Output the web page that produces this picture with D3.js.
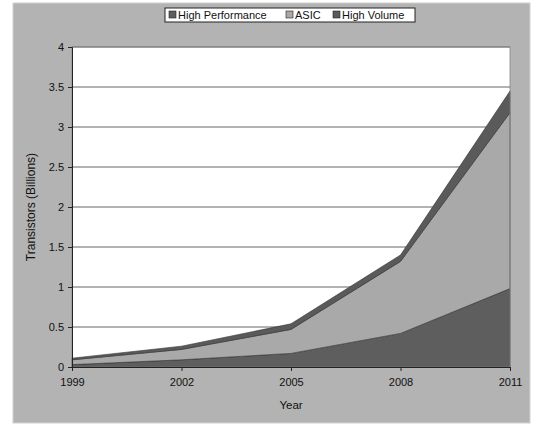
<!DOCTYPE html>
<html>
<head>
<meta charset="utf-8">
<script src="https://cdn.jsdelivr.net/npm/d3@7"></script>
<style>
  body { margin: 0; background: #fff; }
  text { font-family: "Liberation Sans", Arial, sans-serif; fill: #111; }
</style>
</head>
<body>
<svg id="chart" width="541" height="424"></svg>
<script>
const years = ["1999", "2002", "2005", "2008", "2011"];
const seriesNames = ["High Performance", "ASIC", "High Volume"];
const highPerformance = [0.03, 0.09, 0.17, 0.42, 0.98];
const asic = [0.06, 0.13, 0.30, 0.90, 2.20];
const highVolume = [0.02, 0.04, 0.07, 0.08, 0.27];
const yTicks = [0, 0.5, 1, 1.5, 2, 2.5, 3, 3.5, 4];

const colors = ["#5e5e5e", "#a9a9a9", "#5a5a5a"];

const svg = d3.select("#chart");

// outer chart area
svg.append("rect")
  .attr("x", 13).attr("y", 3)
  .attr("width", 517).attr("height", 420)
  .attr("fill", "#b3b3b3")
  .attr("stroke", "#d0d0d0");

const margin = { top: 47, right: 31, bottom: 57, left: 72 },
      width = 541 - margin.left - margin.right,
      height = 424 - margin.top - margin.bottom;

const g = svg.append("g").attr("transform", `translate(${margin.left},${margin.top})`);

const x = d3.scalePoint().domain(years).range([0, width]);
const y = d3.scaleLinear().domain([0, 4]).range([height, 0]);

g.append("rect")
  .attr("width", width).attr("height", height)
  .attr("fill", "#fff");

// gridlines
g.selectAll(".grid")
  .data(yTicks.filter(d => d > 0))
  .enter().append("line")
  .attr("x1", 0).attr("x2", width)
  .attr("y1", d => y(d)).attr("y2", d => y(d))
  .attr("stroke", "#666").attr("stroke-width", 1.2);

const table = years.map((yr, i) => ({
  year: yr,
  "High Performance": highPerformance[i],
  "ASIC": asic[i],
  "High Volume": highVolume[i]
}));

const stacked = d3.stack().keys(seriesNames)(table);

const area = d3.area()
  .x(d => x(d.data.year))
  .y0(d => y(d[0]))
  .y1(d => y(d[1]));

g.selectAll(".layer")
  .data(stacked)
  .enter().append("path")
  .attr("d", area)
  .attr("fill", (d, i) => colors[i])
  .attr("stroke", "#333")
  .attr("stroke-width", 0.6);

// plot border
g.append("rect")
  .attr("width", width).attr("height", height)
  .attr("fill", "none")
  .attr("stroke", "#888").attr("stroke-width", 0.8);

// axes
const yAxis = g.append("g")
  .call(d3.axisLeft(y).tickValues(yTicks).tickSize(4).tickFormat(d3.format("")));
yAxis.select(".domain").attr("stroke", "#222");
yAxis.selectAll(".tick line").attr("stroke", "#222");
yAxis.selectAll("text").attr("font-size", 11).attr("dx", -1);

const xAxis = g.append("g")
  .attr("transform", `translate(0,${height})`)
  .call(d3.axisBottom(x).tickSize(4));
xAxis.select(".domain").attr("stroke", "#222");
xAxis.selectAll(".tick line").attr("stroke", "#222");
xAxis.selectAll("text").attr("font-size", 11).attr("dy", "1.05em");

g.append("text")
  .attr("x", width / 2).attr("y", height + 42)
  .attr("text-anchor", "middle")
  .attr("font-size", 11.5)
  .text("Year");

g.append("text")
  .attr("transform", "rotate(-90)")
  .attr("x", -height / 2).attr("y", -37)
  .attr("text-anchor", "middle")
  .attr("font-size", 12)
  .text("Transistors (Billions)");

// legend
const legend = svg.append("g").attr("transform", "translate(165,8)");
legend.append("rect")
  .attr("width", 250).attr("height", 14)
  .attr("fill", "#fff").attr("stroke", "#222");
const legendX = [4, 121, 168];
seriesNames.forEach((name, i) => {
  const item = legend.append("g").attr("transform", `translate(${legendX[i]},3)`);
  item.append("rect")
    .attr("width", 7).attr("height", 7)
    .attr("fill", colors[i]).attr("stroke", "#222").attr("stroke-width", 0.6);
  item.append("text")
    .attr("x", 9).attr("y", 8)
    .attr("font-size", 11)
    .text(name);
});
</script>
</body>
</html>
